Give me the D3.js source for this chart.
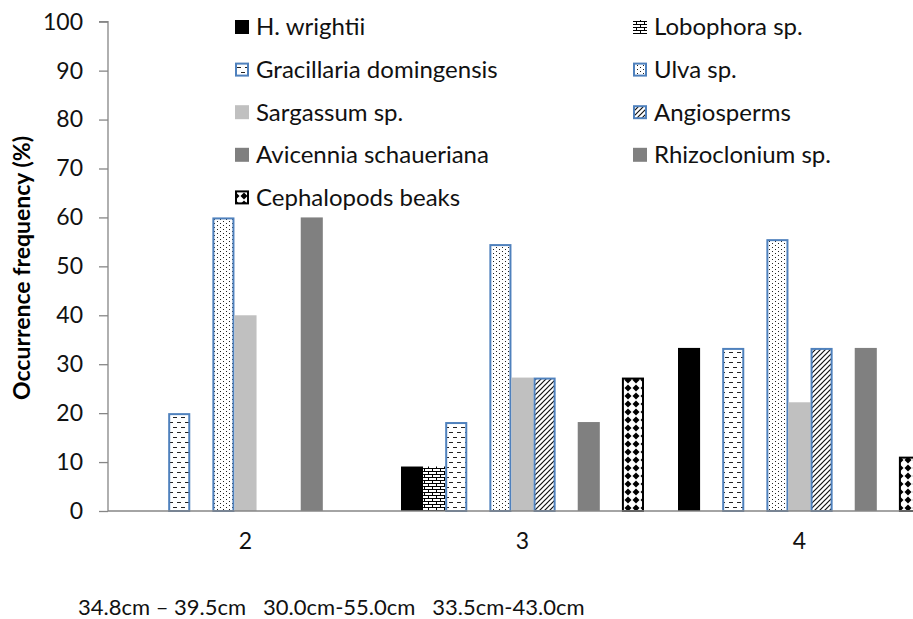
<!DOCTYPE html>
<html><head><meta charset="utf-8">
<script src="https://cdn.jsdelivr.net/npm/d3@7/dist/d3.min.js"></script>
<style>
html,body{margin:0;padding:0;background:#fff;}
svg{display:block;font-family:Lato, "Open Sans", sans-serif;}
</style></head>
<body>
<svg id="chart" width="913" height="619"></svg>
<script>
// ---- data ----
const groups = ["2", "3", "4"];
// 11 series slots (two unnamed slots carry no bars and are not in the legend)
const seriesNames = ["H. wrightii", "Lobophora sp.", "Gracillaria domingensis", "", "Ulva sp.",
  "Sargassum sp.", "Angiosperms", "Avicennia schaueriana", "Rhizoclonium sp.", "", "Cephalopods beaks"];
const hWrightii     = [0, 9.09, 33.33];
const lobophora     = [0, 9.09, 0];
const gracillaria   = [20, 18.18, 33.33];
const hiddenA       = [0, 0, 0];
const ulva          = [60, 54.55, 55.56];
const sargassum     = [40, 27.27, 22.22];
const angiosperms   = [0, 27.27, 33.33];
const avicennia     = [0, 0, 0];
const rhizoclonium  = [60, 18.18, 33.33];
const hiddenB       = [0, 0, 0];
const cephalopods   = [0, 27.27, 11.11];
const seriesValues = [hWrightii, lobophora, gracillaria, hiddenA, ulva, sargassum,
  angiosperms, avicennia, rhizoclonium, hiddenB, cephalopods];
const yTicks = [0, 10, 20, 30, 40, 50, 60, 70, 80, 90, 100];
const yTitle = "Occurrence frequency (%)";
const footText = "34.8cm \u2013 39.5cm   30.0cm-55.0cm   33.5cm-43.0cm";
// legend order (row-major, two columns)
const legendOrder = [0, 1, 2, 4, 5, 6, 7, 8, 10];

// ---- styles ----
const styles = [
  {fill: "#000000", stroke: "none"},
  {fill: "url(#pBrick)", stroke: "none"},
  {fill: "url(#pDash)", stroke: "#4F81BD"},
  {fill: "none", stroke: "none"},
  {fill: "url(#pDots)", stroke: "#4F81BD"},
  {fill: "#C0C0C0", stroke: "none"},
  {fill: "url(#pDiag)", stroke: "#4F81BD"},
  {fill: "#7F7F7F", stroke: "none"},
  {fill: "#808080", stroke: "none"},
  {fill: "none", stroke: "none"},
  {fill: "url(#pDiamond)", stroke: "#000000"}
];

const svg = d3.select("#chart");
const defs = svg.append("defs");

// brick
let p = defs.append("pattern").attr("id", "pBrick").attr("patternUnits", "userSpaceOnUse")
  .attr("width", 8).attr("height", 6);
p.append("rect").attr("width", 8).attr("height", 6).attr("fill", "#fff");
p.append("path").attr("d", "M0,0.5H8M0,3.5H8M0.5,0.5V3.5M4.5,3.5V6.5")
  .attr("stroke", "#000").attr("stroke-width", 1).attr("fill", "none");
// dashes
p = defs.append("pattern").attr("id", "pDash").attr("patternUnits", "userSpaceOnUse")
  .attr("width", 8).attr("height", 10);
p.append("rect").attr("width", 8).attr("height", 10).attr("fill", "#fff");
p.append("path").attr("d", "M1,2.5H5M5,7.5H9M-3,7.5H1")
  .attr("stroke", "#222").attr("stroke-width", 1.2).attr("fill", "none");
// dots
p = defs.append("pattern").attr("id", "pDots").attr("patternUnits", "userSpaceOnUse")
  .attr("width", 6).attr("height", 4);
p.append("rect").attr("width", 6).attr("height", 4).attr("fill", "#fff");
p.append("rect").attr("x", 1).attr("y", 1).attr("width", 1).attr("height", 1).attr("fill", "#222");
p.append("rect").attr("x", 4).attr("y", 3).attr("width", 1).attr("height", 1).attr("fill", "#222");
// diagonal
p = defs.append("pattern").attr("id", "pDiag").attr("patternUnits", "userSpaceOnUse")
  .attr("width", 5).attr("height", 5);
p.append("rect").attr("width", 5).attr("height", 5).attr("fill", "#fff");
p.append("path").attr("d", "M-1,6L6,-1M-1,1L1,-1M4,6L6,4")
  .attr("stroke", "#111").attr("stroke-width", 1.2).attr("fill", "none");
// diamonds
p = defs.append("pattern").attr("id", "pDiamond").attr("patternUnits", "userSpaceOnUse")
  .attr("width", 8).attr("height", 8);
p.append("rect").attr("width", 8).attr("height", 8).attr("fill", "#fff");
p.append("path").attr("d", "M4,0.5L7.5,4L4,7.5L0.5,4Z").attr("fill", "#000");

// ---- scales ----
const y = d3.scaleLinear().domain([0, 100]).range([511, 21.7]);
const x0 = d3.scaleBand().domain(groups).range([107, 938]).padding(0);
const x1 = d3.scaleBand().domain(d3.range(seriesNames.length)).range([17, 260]).padding(0);

// ---- axes ----
const yAxis = svg.append("g").attr("transform", "translate(108,0)")
  .call(d3.axisLeft(y).tickValues(yTicks).tickSize(9).tickPadding(16).tickFormat(d3.format("d")));
yAxis.select(".domain").attr("stroke", "#868686").attr("stroke-width", 1.3).attr("d", `M-9,${y(100)}H0V${y(0)}`);
yAxis.selectAll(".tick line").attr("stroke", "#868686").attr("stroke-width", 1.3);
yAxis.selectAll(".tick text").attr("font-family", "Lato").attr("font-size", 23).attr("fill", "#111");

// bars
const bars = svg.append("g");
groups.forEach((g, gi) => {
  seriesValues.forEach((vals, si) => {
    const v = vals[gi];
    if (!v) return;
    const st = styles[si];
    const sw = st.stroke === "none" ? 0 : 2;
    const bx = x0(g) + x1(si), bw = x1.bandwidth();
    bars.append("rect")
      .attr("x", bx + sw / 2).attr("width", bw - sw)
      .attr("y", y(v) + sw / 2).attr("height", y(0) - y(v) - sw / 2)
      .attr("fill", st.fill).attr("stroke", st.stroke).attr("stroke-width", sw);
  });
});

const xAxis = svg.append("g").attr("transform", `translate(0,${y(0)})`)
  .call(d3.axisBottom(x0).tickSize(0).tickPadding(22));
xAxis.select(".domain").attr("stroke", "#868686").attr("stroke-width", 1.3).attr("d", "M108,0H913");
xAxis.selectAll(".tick text").attr("font-family", "Lato").attr("font-size", 23).attr("fill", "#111")
  .attr("dy", "0.71em");

// y title
svg.append("text").attr("transform", "translate(30,268) rotate(-90)")
  .attr("text-anchor", "middle").attr("font-family", "Lato").attr("font-weight", "bold")
  .attr("font-size", 23).attr("fill", "#000").text(yTitle);

// legend
const leg = svg.append("g");
legendOrder.forEach((si, i) => {
  const col = i % 2, row = Math.floor(i / 2);
  const mx = col === 0 ? 235 : 633;
  const cy = 27 + row * 42.6;
  const st = styles[si];
  const sw = st.stroke === "none" ? 0 : 2;
  leg.append("rect").attr("x", mx + sw / 2).attr("y", cy - 7 + sw / 2)
    .attr("width", 14 - sw).attr("height", 14 - sw)
    .attr("fill", st.fill).attr("stroke", st.stroke).attr("stroke-width", sw);
  leg.append("text").attr("x", mx + 21).attr("y", cy).attr("dy", "0.35em")
    .attr("font-family", "Lato").attr("font-size", 24).attr("fill", "#111")
    .text(seriesNames[si]);
});

// footer
svg.append("text").attr("x", 78).attr("y", 607).attr("dy", "0.35em")
  .attr("font-family", "Lato").attr("font-size", 22).attr("fill", "#111")
  .attr("xml:space", "preserve").style("white-space", "pre").text(footText);
</script>
</body></html>
